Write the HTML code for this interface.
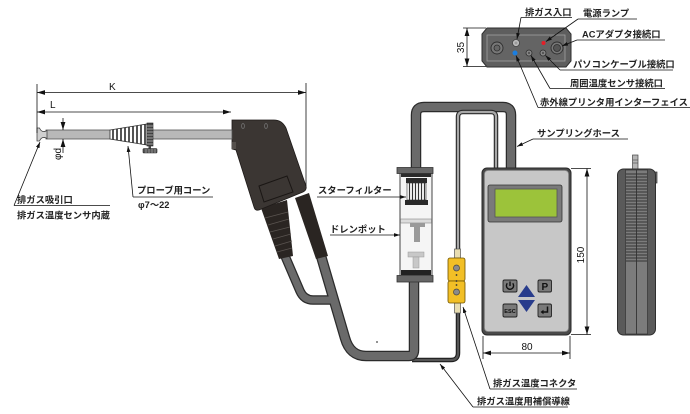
<!DOCTYPE html>
<html><head><meta charset="utf-8"><style>
html,body{margin:0;padding:0;background:#fff;}
svg{display:block;}
text{font-family:"Liberation Sans","Noto Sans CJK JP",sans-serif;}
.j{font-size:9.3px;font-weight:bold;fill:#222;}
.n{font-size:10px;fill:#111;}
.ln{stroke:#111;stroke-width:0.8;fill:none;}
</style></head><body>
<svg width="690" height="414" viewBox="0 0 690 414" xmlns="http://www.w3.org/2000/svg">
<defs>
<marker id="d" markerWidth="8" markerHeight="6" refX="8" refY="3" orient="auto-start-reverse" markerUnits="userSpaceOnUse"><path d="M0,0.6 L8,3 L0,5.4 Z" fill="#111"/></marker>
<marker id="a" markerWidth="6" markerHeight="5" refX="6" refY="2.5" orient="auto" markerUnits="userSpaceOnUse"><path d="M0,0.6 L6,2.5 L0,4.4 Z" fill="#111"/></marker>
<clipPath id="cone"><polygon points="110,130 147,124 147,145 110,139"/></clipPath>
</defs>

<!-- thin cable bottom -->
<path d="M412,360 H451 Q458,360 458,353 V311" stroke="#1e1e1e" stroke-width="4.5" fill="none"/>
<path d="M412,360 H451 Q458,360 458,353 V311" stroke="#555" stroke-width="2.2" fill="none"/>

<!-- hoses -->
<g fill="none" stroke-linejoin="round" stroke-linecap="butt">
<path d="M285,256 L300,291 Q304,300 313,300 L334,300" stroke="#2b2b2b" stroke-width="9.5"/>
<path d="M321,256 L345,338 Q350,356 366,356 L409,356 Q414,356 414,350 L414,281" stroke="#2b2b2b" stroke-width="10.5"/>
<path d="M416,169 V115 Q416,107 424,107 H503 Q511,107 511,115 V170" stroke="#2b2b2b" stroke-width="10.5"/>
<path d="M285,256 L300,291 Q304,300 313,300 L334,300" stroke="#6a6a6a" stroke-width="7"/>
<path d="M321,256 L345,338 Q350,356 366,356 L409,356 Q414,356 414,350 L414,281" stroke="#6a6a6a" stroke-width="8"/>
<path d="M416,169 V115 Q416,107 424,107 H503 Q511,107 511,115 V170" stroke="#6a6a6a" stroke-width="8"/>
</g>
<!-- thin cable top -->
<path d="M458,250 V117 Q458,112 463,112 H491 Q496,112 496,117 V170" stroke="#2a2a2a" stroke-width="4.5" fill="none"/>
<path d="M458,250 V117 Q458,112 463,112 H491 Q496,112 496,117 V170" stroke="#a8a8a8" stroke-width="2.2" fill="none"/>
<circle cx="377" cy="342" r="0.9" fill="#444"/>

<!-- filter / drain pot -->
<rect x="400" y="173" width="32" height="103" fill="#f5f5f5" stroke="#444" stroke-width="1"/>
<rect x="397" y="167.5" width="36" height="6" fill="#666" stroke="#333" stroke-width="0.8"/>
<rect x="401" y="173.5" width="30" height="3.5" fill="#2a2a2a"/>
<rect x="406" y="178" width="21" height="5" fill="#2a2a2a"/>
<rect x="407" y="183" width="19" height="17" fill="#fff" stroke="#333" stroke-width="0.6"/>
<g stroke="#333" stroke-width="1.2">
<line x1="409.5" y1="183" x2="409.5" y2="200"/><line x1="412.5" y1="183" x2="412.5" y2="200"/>
<line x1="415.5" y1="183" x2="415.5" y2="200"/><line x1="418.5" y1="183" x2="418.5" y2="200"/>
<line x1="421.5" y1="183" x2="421.5" y2="200"/><line x1="424.5" y1="183" x2="424.5" y2="200"/>
</g>
<rect x="405" y="200" width="23" height="5" fill="#2a2a2a"/>
<rect x="400.5" y="219" width="31" height="4" fill="#dcdcdc" stroke="#888" stroke-width="0.6"/>
<rect x="410" y="223" width="15" height="4" fill="#9a9a9a"/>
<rect x="414" y="227" width="6" height="15" fill="#9a9a9a"/>
<rect x="408" y="252" width="16" height="5" fill="#c8c8c8" stroke="#999" stroke-width="0.5"/>
<rect x="413" y="257" width="6" height="11" fill="#c8c8c8" stroke="#999" stroke-width="0.5"/>
<rect x="401" y="270" width="30" height="5" fill="#222"/>
<rect x="397" y="275.5" width="36" height="6.5" fill="#666" stroke="#333" stroke-width="0.8"/>

<!-- connector -->
<rect x="454.5" y="249" width="6" height="9" fill="#e8ddb0" stroke="#555" stroke-width="0.7"/>
<rect x="454.5" y="303" width="6" height="10" fill="#e8ddb0" stroke="#555" stroke-width="0.7"/>
<rect x="448" y="258" width="17" height="23" rx="2" fill="#f2bf26" stroke="#6e5200" stroke-width="0.8"/>
<rect x="448" y="281" width="17" height="22" rx="2" fill="#f2bf26" stroke="#6e5200" stroke-width="0.8"/>
<circle cx="456.5" cy="268" r="3" fill="#8a8a8a" stroke="#444" stroke-width="0.7"/>
<circle cx="456.5" cy="292" r="3" fill="#8a8a8a" stroke="#444" stroke-width="0.7"/>
<circle cx="456.5" cy="275" r="0.9" fill="#333"/><circle cx="456.5" cy="281" r="0.9" fill="#333"/><circle cx="456.5" cy="285" r="0.9" fill="#333"/>

<!-- device front -->
<rect x="482" y="168" width="89" height="167" rx="5" fill="#4a4a4a" stroke="#2a2a2a" stroke-width="1"/>
<rect x="484.5" y="170.5" width="84" height="161" rx="3.5" fill="#c7c7c7" stroke="#8a8a8a" stroke-width="0.8"/>
<rect x="488" y="185" width="74" height="37" rx="2" fill="#7a7a7a" stroke="#333" stroke-width="0.8"/>
<rect x="495" y="189" width="62" height="28" fill="#9cc33a" stroke="#555" stroke-width="0.8"/>
<rect x="503" y="280" width="14" height="12" rx="1.5" fill="#7a7a7a" stroke="#222" stroke-width="0.9"/>
<path d="M507.3,283.3 A3.6,3.6 0 1 0 512.7,283.3" stroke="#111" stroke-width="1.4" fill="none"/>
<line x1="510" y1="281.5" x2="510" y2="286" stroke="#111" stroke-width="1.4"/>
<rect x="538" y="280" width="13.5" height="12" rx="1.5" fill="#7a7a7a" stroke="#222" stroke-width="0.9"/>
<text x="544.8" y="290" font-size="10" font-weight="bold" text-anchor="middle" fill="#111">P</text>
<rect x="503" y="304" width="14" height="13" rx="1.5" fill="#7a7a7a" stroke="#222" stroke-width="0.9"/>
<text x="510" y="312.8" font-size="5.6" font-weight="bold" text-anchor="middle" fill="#111">ESC</text>
<rect x="538" y="304" width="13.5" height="13" rx="1.5" fill="#7a7a7a" stroke="#222" stroke-width="0.9"/>
<path d="M547.5,306.5 V312 H542.5" stroke="#111" stroke-width="1.5" fill="none"/>
<path d="M540.5,312 L543.5,309.8 L543.5,314.2 Z" fill="#111"/>
<polygon points="518,297 526.5,285 535,297" fill="#283c8c"/>
<polygon points="518,300 535,300 526.5,312" fill="#283c8c"/>

<!-- device side -->
<rect x="632.5" y="155" width="5.5" height="14" fill="#b5b5b5" stroke="#444" stroke-width="0.7"/>
<line x1="632.5" y1="160" x2="638" y2="160" stroke="#555" stroke-width="0.7"/>
<line x1="632.5" y1="163" x2="638" y2="163" stroke="#555" stroke-width="0.7"/>
<rect x="652" y="172" width="5" height="11" fill="#777" stroke="#333" stroke-width="0.7"/>
<rect x="617.5" y="169" width="38" height="166" rx="6" fill="#5a5a5a" stroke="#2f2f2f" stroke-width="1"/>
<rect x="625.5" y="170" width="22" height="164" fill="#7c7c7c" stroke="#3a3a3a" stroke-width="0.8"/>
<g stroke="#333" stroke-width="1.1">
<line x1="626" y1="174" x2="647" y2="174"/><line x1="626" y1="177" x2="647" y2="177"/><line x1="626" y1="180" x2="647" y2="180"/><line x1="626" y1="183" x2="647" y2="183"/><line x1="626" y1="186" x2="647" y2="186"/><line x1="626" y1="189" x2="647" y2="189"/><line x1="626" y1="192" x2="647" y2="192"/><line x1="626" y1="195" x2="647" y2="195"/><line x1="626" y1="198" x2="647" y2="198"/><line x1="626" y1="201" x2="647" y2="201"/><line x1="626" y1="204" x2="647" y2="204"/><line x1="626" y1="207" x2="647" y2="207"/><line x1="626" y1="210" x2="647" y2="210"/><line x1="626" y1="213" x2="647" y2="213"/><line x1="626" y1="216" x2="647" y2="216"/><line x1="626" y1="219" x2="647" y2="219"/><line x1="626" y1="222" x2="647" y2="222"/><line x1="626" y1="225" x2="647" y2="225"/><line x1="626" y1="228" x2="647" y2="228"/><line x1="626" y1="231" x2="647" y2="231"/><line x1="626" y1="234" x2="647" y2="234"/><line x1="626" y1="237" x2="647" y2="237"/><line x1="626" y1="240" x2="647" y2="240"/><line x1="626" y1="243" x2="647" y2="243"/><line x1="626" y1="246" x2="647" y2="246"/><line x1="626" y1="249" x2="647" y2="249"/><line x1="626" y1="252" x2="647" y2="252"/><line x1="626" y1="255" x2="647" y2="255"/><line x1="626" y1="258" x2="647" y2="258"/><line x1="626" y1="261" x2="647" y2="261"/>
</g>
<line x1="636.5" y1="170" x2="636.5" y2="334" stroke="#333" stroke-width="0.9"/>

<!-- device top view -->
<path d="M487,28 H566 L571,34 V61 L566,67 H487 L482,61 V34 Z" fill="#5e5e5e" stroke="#2e2e2e" stroke-width="1"/>
<rect x="487" y="35" width="78" height="26" fill="#646464" stroke="#a0a0a0" stroke-width="0.8"/>
<circle cx="497" cy="48" r="6" fill="#777" stroke="#2e2e2e" stroke-width="0.9"/>
<circle cx="497" cy="48" r="3" fill="#666" stroke="#2e2e2e" stroke-width="0.8"/>
<circle cx="516" cy="43" r="3.5" fill="#bbb" stroke="#444" stroke-width="0.8"/>
<circle cx="516" cy="43" r="1.5" fill="#999"/>
<circle cx="543.5" cy="43" r="2" fill="#e61e28"/>
<circle cx="557" cy="48" r="6" fill="#777" stroke="#2e2e2e" stroke-width="0.9"/>
<circle cx="557" cy="48" r="3.5" fill="#555" stroke="#2e2e2e" stroke-width="0.8"/>
<circle cx="515" cy="53" r="2.5" fill="#1a7ee0"/>
<circle cx="529" cy="53" r="3" fill="#888" stroke="#2e2e2e" stroke-width="0.8"/>
<circle cx="529" cy="53" r="1.2" fill="#555"/>
<circle cx="543" cy="53" r="3" fill="#888" stroke="#2e2e2e" stroke-width="0.8"/>
<circle cx="543" cy="53" r="1.2" fill="#555"/>

<!-- handle strain reliefs -->
<polygon points="261,208 287,200 293,256 279,259" fill="#2a2522"/>
<g stroke="#5a5450" stroke-width="0.8">
<line x1="265" y1="218" x2="288" y2="212"/><line x1="268" y1="225" x2="289" y2="219"/><line x1="270" y1="232" x2="290" y2="227"/><line x1="273" y1="239" x2="291" y2="234"/><line x1="275" y1="246" x2="292" y2="241"/><line x1="277" y1="252" x2="292" y2="248"/>
</g>
<polygon points="295,198 309,193 328,256 316,259" fill="#2a2522"/>

<!-- handle -->
<path d="M232,120 L274,120 Q282,120 286,128 L306,186 Q307,190 303,192 L259,210 Q255,211 254,207 L236,150 L232,149 Z" fill="#3b3633" stroke="#1e1a18" stroke-width="0.8"/>
<polygon points="259,186 287,176 293,192 264,202" fill="#3b3633" stroke="#1a1614" stroke-width="1"/>
<ellipse cx="243" cy="126" rx="1.4" ry="2.4" fill="none" stroke="#777" stroke-width="0.7"/>
<ellipse cx="266" cy="126" rx="1.4" ry="2.4" fill="none" stroke="#777" stroke-width="0.7"/>
<rect x="232" y="142" width="4" height="7" fill="#55504c"/>

<!-- probe -->
<rect x="46" y="130" width="186" height="9" fill="#b8b8b8" stroke="#555" stroke-width="0.8"/>
<path d="M37,128 L39.5,128 Q42,133.5 47,130.5 L47,138.5 Q42,135.5 39.5,141 L37,141 Z" fill="#d0d0d0" stroke="#444" stroke-width="0.8"/>
<polygon points="110,130 147,124 147,145 110,139" fill="#fff" stroke="#333" stroke-width="0.8"/>
<g clip-path="url(#cone)" stroke="#2a2a2a" stroke-width="1.6">
<line x1="113" y1="120" x2="113" y2="150"/><line x1="117" y1="120" x2="117" y2="150"/><line x1="121" y1="120" x2="121" y2="150"/><line x1="125" y1="120" x2="125" y2="150"/><line x1="129" y1="120" x2="129" y2="150"/><line x1="133" y1="120" x2="133" y2="150"/><line x1="137" y1="120" x2="137" y2="150"/><line x1="141" y1="120" x2="141" y2="150"/><line x1="145" y1="120" x2="145" y2="150"/>
</g>
<rect x="147" y="123" width="6" height="23" fill="#444" stroke="#222" stroke-width="0.6"/>
<g stroke="#ddd" stroke-width="0.6">
<line x1="147" y1="126" x2="153" y2="126"/><line x1="147" y1="129" x2="153" y2="129"/><line x1="147" y1="132" x2="153" y2="132"/><line x1="147" y1="135" x2="153" y2="135"/><line x1="147" y1="138" x2="153" y2="138"/><line x1="147" y1="141" x2="153" y2="141"/><line x1="147" y1="144" x2="153" y2="144"/>
</g>
<rect x="148.5" y="146" width="2.5" height="3" fill="#444"/>
<rect x="143" y="148.5" width="14" height="4.5" rx="1" fill="#555" stroke="#222" stroke-width="0.6"/>
<g stroke="#ccc" stroke-width="0.5"><line x1="146" y1="149" x2="146" y2="153"/><line x1="149" y1="149" x2="149" y2="153"/><line x1="152" y1="149" x2="152" y2="153"/><line x1="155" y1="149" x2="155" y2="153"/></g>

<!-- dimensions -->
<line class="ln" x1="37" y1="84" x2="37" y2="133"/>
<line class="ln" x1="306" y1="83" x2="306" y2="186"/>
<line class="ln" x1="37" y1="92.5" x2="306" y2="92.5" marker-start="url(#d)" marker-end="url(#d)"/>
<text class="n" x="109" y="90">K</text>
<line class="ln" x1="37" y1="112" x2="231" y2="112" marker-start="url(#d)" marker-end="url(#d)"/>
<text class="n" x="50" y="108">L</text>
<line class="ln" x1="63" y1="118" x2="63" y2="130" marker-end="url(#d)"/>
<line class="ln" x1="63" y1="153" x2="63" y2="139" marker-end="url(#d)"/>
<text class="n" transform="translate(61,160) rotate(-90)" font-size="9">φd</text>

<line class="ln" x1="463" y1="28" x2="486" y2="28"/>
<line class="ln" x1="463" y1="66.5" x2="486" y2="66.5"/>
<line class="ln" x1="467" y1="28" x2="467" y2="66.5" marker-start="url(#d)" marker-end="url(#d)"/>
<text class="n" transform="translate(464,47.5) rotate(-90)" text-anchor="middle">35</text>

<line class="ln" x1="571" y1="168.5" x2="591" y2="168.5"/>
<line class="ln" x1="571" y1="334.5" x2="591" y2="334.5"/>
<line class="ln" x1="587" y1="168.5" x2="587" y2="334.5" marker-start="url(#d)" marker-end="url(#d)"/>
<text class="n" transform="translate(584,255) rotate(-90)" text-anchor="middle">150</text>

<line class="ln" x1="483" y1="336" x2="483" y2="359"/>
<line class="ln" x1="570" y1="336" x2="570" y2="359"/>
<line class="ln" x1="483" y1="353" x2="570" y2="353" marker-start="url(#d)" marker-end="url(#d)"/>
<text class="n" x="527" y="350" text-anchor="middle">80</text>

<!-- labels top view -->
<text class="j" x="525" y="15.5">排ガス入口</text>
<line class="ln" x1="521" y1="17.5" x2="572" y2="17.5"/>
<line class="ln" x1="521" y1="17.5" x2="517" y2="39" marker-end="url(#a)"/>

<text class="j" x="583" y="16.5">電源ランプ</text>
<line class="ln" x1="578" y1="19" x2="637" y2="19"/>
<line class="ln" x1="578" y1="19" x2="546" y2="41.5" marker-end="url(#a)"/>

<text class="j" x="582" y="37.5">ACアダプタ接続口</text>
<line class="ln" x1="577" y1="40" x2="665" y2="40"/>
<line class="ln" x1="577" y1="40" x2="562" y2="46" marker-end="url(#a)"/>

<text class="j" x="573" y="67.5">パソコンケーブル接続口</text>
<line class="ln" x1="560" y1="70" x2="673" y2="70"/>
<line class="ln" x1="560" y1="70" x2="545.5" y2="55.5" marker-end="url(#a)"/>

<text class="j" x="570" y="86.5">周囲温度センサ接続口</text>
<line class="ln" x1="550" y1="88.5" x2="665" y2="88.5"/>
<line class="ln" x1="550" y1="88.5" x2="531" y2="55.5" marker-end="url(#a)"/>

<text class="j" x="540" y="105.5">赤外線プリンタ用インターフェイス</text>
<line class="ln" x1="538" y1="107.5" x2="690" y2="107.5"/>
<line class="ln" x1="538" y1="107.5" x2="516" y2="55.5" marker-end="url(#a)"/>

<text class="j" x="537" y="136.5">サンプリングホース</text>
<line class="ln" x1="533" y1="139" x2="628" y2="139"/>
<line class="ln" x1="533" y1="139" x2="517" y2="146.5" marker-end="url(#a)"/>

<!-- labels middle -->
<text class="j" x="318" y="193.5">スターフィルター</text>
<line class="ln" x1="317" y1="197" x2="406" y2="197" marker-end="url(#a)"/>
<text class="j" x="330" y="232.5">ドレンポット</text>
<line class="ln" x1="330" y1="235" x2="400" y2="235" marker-end="url(#a)"/>

<!-- labels left -->
<text class="j" x="17" y="203">排ガス吸引口</text>
<line class="ln" x1="14" y1="205.5" x2="110" y2="205.5"/>
<line class="ln" x1="14" y1="205.5" x2="40" y2="142" marker-end="url(#a)"/>
<text class="j" x="17" y="218.5">排ガス温度センサ内蔵</text>

<text class="j" x="137" y="193.5">プローブ用コーン</text>
<line class="ln" x1="133" y1="197" x2="213" y2="197"/>
<line class="ln" x1="133" y1="197" x2="128" y2="146" marker-end="url(#a)"/>
<text class="j" x="138" y="208">φ7〜22</text>

<!-- labels bottom -->
<text class="j" x="493" y="386.5">排ガス温度コネクタ</text>
<line class="ln" x1="490" y1="389" x2="577" y2="389"/>
<line class="ln" x1="490" y1="389" x2="463" y2="307" marker-end="url(#a)"/>

<text class="j" x="477" y="404.5">排ガス温度用補償導線</text>
<line class="ln" x1="473" y1="407" x2="568" y2="407"/>
<line class="ln" x1="473" y1="407" x2="440" y2="364" marker-end="url(#a)"/>
</svg>
</body></html>
